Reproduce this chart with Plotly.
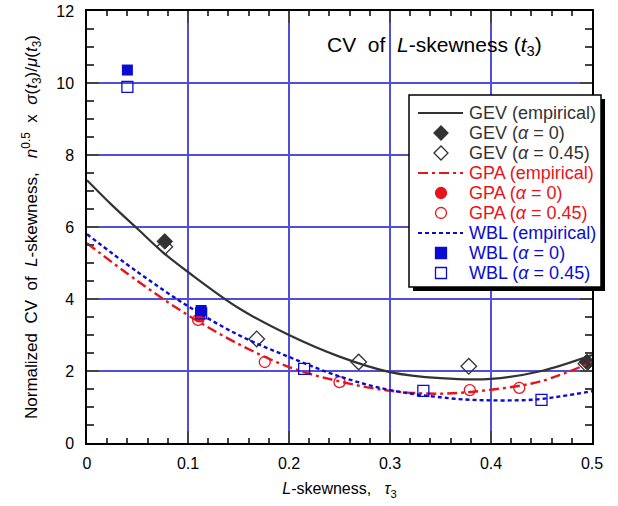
import plotly.graph_objects as go

# Empirical curves: normalized CV of L-skewness vs tau3
gev_x = [0, 0.025, 0.05, 0.075, 0.1, 0.15, 0.2, 0.25, 0.3, 0.35, 0.4, 0.45, 0.5]
gev_y = [7.3, 6.6, 5.95, 5.3, 4.75, 3.75, 3.0, 2.4, 1.97, 1.8, 1.78, 2.0, 2.44]

gpa_x = [0, 0.05, 0.1, 0.15, 0.2, 0.25, 0.3, 0.35, 0.4, 0.45, 0.5]
gpa_y = [5.55, 4.5, 3.55, 2.75, 2.11, 1.71, 1.45, 1.37, 1.48, 1.72, 2.25]

wbl_x = [0, 0.05, 0.1, 0.15, 0.2, 0.25, 0.3, 0.35, 0.38, 0.44, 0.47, 0.5]
wbl_y = [5.8, 4.75, 3.8, 3.0, 2.39, 1.85, 1.47, 1.27, 1.2, 1.2, 1.3, 1.44]

# Simulated points, plotting position alpha = 0 and alpha = 0.45
gev_a0_x = [0.077, 0.495]
gev_a0_y = [5.6, 2.25]
gev_a45_x = [0.077, 0.168, 0.269, 0.378, 0.494]
gev_a45_y = [5.45, 2.89, 2.25, 2.13, 2.2]

gpa_a0_x = [0.112]
gpa_a0_y = [3.5]
gpa_a45_x = [0.110, 0.176, 0.25, 0.379, 0.428]
gpa_a45_y = [3.42, 2.25, 1.69, 1.47, 1.53]

wbl_a0_x = [0.04, 0.113]
wbl_a0_y = [10.36, 3.68]
wbl_a45_x = [0.04, 0.113, 0.215, 0.333, 0.45]
wbl_a45_y = [9.89, 3.6, 2.06, 1.45, 1.2]

# Axis ticks
x_ticks = [0, 0.1, 0.2, 0.3, 0.4, 0.5]
x_ticklabels = ["0", "0.1", "0.2", "0.3", "0.4", "0.5"]
y_ticks = [0, 2, 4, 6, 8, 10, 12]
y_ticklabels = ["0", "2", "4", "6", "8", "10", "12"]

GEV_C = "#333333"
GPA_C = "#e8131b"
WBL_C = "#0b0bd6"
FONT = "Arial, Liberation Sans, sans-serif"
NB = "\u00a0"

GEV_DASH = "solid"
GPA_DASH = "10px,4px,3px,4px"
WBL_DASH = "4px,3px"

# figure geometry (pixels)
W, H = 618, 506
ML, MR, MT, MB = 87, 26, 11, 63
PW, PH = W - ML - MR, H - MT - MB


def px(xp):
    return (xp - ML) / PW


def py(yp):
    return (H - MB - yp) / PH


fig = go.Figure()

fig.add_trace(go.Scatter(x=gev_x, y=gev_y, mode="lines",
                         line=dict(color=GEV_C, width=2.2, dash=GEV_DASH, shape="spline")))
fig.add_trace(go.Scatter(x=gev_a0_x, y=gev_a0_y, mode="markers",
                         marker=dict(symbol="diamond", size=12, color=GEV_C, line=dict(color=GEV_C, width=1))))
fig.add_trace(go.Scatter(x=gev_a45_x, y=gev_a45_y, mode="markers",
                         marker=dict(symbol="diamond-open", size=12, color=GEV_C, line=dict(width=1.3))))

fig.add_trace(go.Scatter(x=gpa_x, y=gpa_y, mode="lines",
                         line=dict(color=GPA_C, width=2.4, dash=GPA_DASH, shape="spline")))
fig.add_trace(go.Scatter(x=gpa_a0_x, y=gpa_a0_y, mode="markers",
                         marker=dict(symbol="circle", size=11, color=GPA_C)))
fig.add_trace(go.Scatter(x=gpa_a45_x, y=gpa_a45_y, mode="markers",
                         marker=dict(symbol="circle-open", size=11, color=GPA_C, line=dict(width=1.3))))

fig.add_trace(go.Scatter(x=wbl_x, y=wbl_y, mode="lines",
                         line=dict(color=WBL_C, width=2.4, dash=WBL_DASH, shape="spline")))
fig.add_trace(go.Scatter(x=wbl_a0_x, y=wbl_a0_y, mode="markers",
                         marker=dict(symbol="square", size=11, color=WBL_C)))
fig.add_trace(go.Scatter(x=wbl_a45_x, y=wbl_a45_y, mode="markers",
                         marker=dict(symbol="square-open", size=11, color=WBL_C, line=dict(width=1.3))))

# reference line at 2
fig.add_shape(type="line", xref="x", yref="y", x0=0, x1=0.5, y0=2, y1=2,
              line=dict(color="#000080", width=1), layer="below")

# ---- legend panel with drop shadow ----
LX0, LX1, LY0, LY1 = 409, 601, 95, 287
fig.add_shape(type="rect", xref="paper", yref="paper", layer="above",
              x0=px(LX0 + 4), x1=px(LX1 + 4), y0=py(LY1 + 4), y1=py(LY0 + 4),
              fillcolor="black", line=dict(width=0))
fig.add_shape(type="rect", xref="paper", yref="paper", layer="above",
              x0=px(LX0), x1=px(LX1), y0=py(LY1), y1=py(LY0),
              fillcolor="white", line=dict(color="black", width=1.5))

legend_items = [
    ("GEV (empirical)", GEV_C, "line", GEV_DASH),
    (f"GEV (<i>α</i>{NB}={NB}0)", GEV_C, "diamond", True),
    (f"GEV (<i>α</i>{NB}={NB}0.45)", GEV_C, "diamond", False),
    ("GPA (empirical)", GPA_C, "line", GPA_DASH),
    (f"GPA (<i>α</i>{NB}={NB}0)", GPA_C, "circle", True),
    (f"GPA (<i>α</i>{NB}={NB}0.45)", GPA_C, "circle", False),
    ("WBL (empirical)", WBL_C, "line", WBL_DASH),
    (f"WBL (<i>α</i>{NB}={NB}0)", WBL_C, "square", True),
    (f"WBL (<i>α</i>{NB}={NB}0.45)", WBL_C, "square", False),
]

KEY_X0, KEY_X1, KEY_XC, TEXT_X = 418, 463, 441, 467
for i, (txt, col, kind, style) in enumerate(legend_items):
    yc = 113 + 20 * i
    if kind == "line":
        fig.add_shape(type="line", xref="paper", yref="paper", layer="above",
                      x0=px(KEY_X0), x1=px(KEY_X1), y0=py(yc), y1=py(yc),
                      line=dict(color=col, width=2.2, dash=style))
    else:
        common = dict(xref="paper", yref="paper", layer="above", xsizemode="pixel", ysizemode="pixel",
                      xanchor=px(KEY_XC), yanchor=py(yc),
                      fillcolor=col if style else "white", line=dict(color=col, width=1.3))
        if kind == "diamond":
            fig.add_shape(type="path", path="M-7,0 L0,7 L7,0 L0,-7 Z", **common)
        elif kind == "circle":
            fig.add_shape(type="circle", x0=-5.5, x1=5.5, y0=-5.5, y1=5.5, **common)
        else:
            fig.add_shape(type="rect", x0=-5.5, x1=5.5, y0=-5.5, y1=5.5, **common)
    fig.add_annotation(text=txt, xref="paper", yref="paper", x=px(TEXT_X), y=py(yc),
                       xanchor="left", yanchor="middle", showarrow=False,
                       font=dict(size=18, color=col, family=FONT))

axis_common = dict(showline=True, linecolor="black", linewidth=1.5, mirror="ticks",
                   ticks="inside", tickcolor="#444444", tickwidth=1.5, ticklen=12,
                   showgrid=True, gridcolor="#4f4fd9", gridwidth=1.6, zeroline=False, automargin=False,
                   tickfont=dict(size=16, color="black", family=FONT))

fig.update_xaxes(range=[0, 0.5], tickmode="array", tickvals=x_ticks, ticktext=x_ticklabels,
                 ticklabelstandoff=5,
                 minor=dict(dtick=0.02, tick0=0, ticks="inside", ticklen=5, tickcolor="#444444", showgrid=False),
                 title=dict(text=f"<i>L</i>-skewness,{NB}{NB}{NB}<i>τ</i><sub>3</sub>",
                            font=dict(size=16, family=FONT), standoff=12),
                 **axis_common)
fig.update_yaxes(range=[0, 12], tickmode="array", tickvals=y_ticks, ticktext=y_ticklabels,
                 ticklabelstandoff=8,
                 minor=dict(dtick=0.5, tick0=0, ticks="inside", ticklen=7, tickcolor="#444444", showgrid=False),
                 title=dict(text=f"Normalized{NB}{NB}CV{NB}{NB}of{NB}{NB}<i>L</i>-skewness,{NB}{NB}{NB}"
                                 f"<i>n</i><sup>0.5</sup>{NB}{NB}x{NB}{NB}"
                                 "<i>σ</i>(<i>t</i><sub>3</sub>)/<i>μ</i>(<i>t</i><sub>3</sub>)",
                            font=dict(size=17, family=FONT), standoff=14),
                 **axis_common)

fig.add_annotation(text=f"CV{NB}{NB}of{NB}{NB}<i>L</i>-skewness{NB}(<i>t</i><sub>3</sub>)",
                   xref="paper", yref="paper",
                   x=px(434), y=py(46), showarrow=False, xanchor="center", yanchor="middle",
                   font=dict(size=21, color="black", family=FONT))

fig.update_layout(
    width=W, height=H,
    margin=dict(l=ML, r=MR, t=MT, b=MB),
    paper_bgcolor="white", plot_bgcolor="white",
    font=dict(family=FONT, color="black"),
    showlegend=False,
)

fig.write_html("out.html")
